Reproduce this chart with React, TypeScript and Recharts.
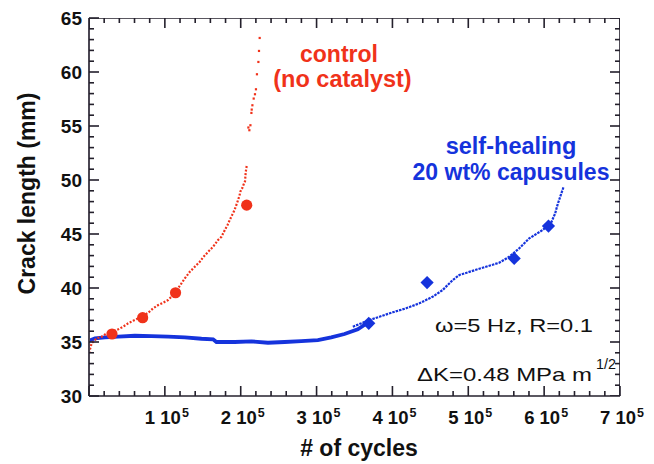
import React from "react";
import { ComposedChart, Line, Scatter, XAxis, YAxis } from "recharts";

// ---------- data (cycles, crack length mm) ----------
const redTrace: number[][] = [
  [0, 33.98], [3500, 34.88], [10100, 35.34], [16700, 35.49], [23300, 35.8], [29800, 35.95],
  [38600, 36.18], [45100, 36.42], [51700, 36.73], [58300, 36.97], [64900, 37.19], [71500, 37.4],
  [78000, 37.71], [84600, 38.12], [91200, 38.42], [97800, 38.64], [104300, 38.89], [110900, 39.35],
  [117500, 39.97], [121900, 40.43], [126300, 40.89], [132900, 41.5], [139500, 41.97], [146100, 42.43],
  [150400, 42.84], [157000, 43.35], [163600, 43.82], [170100, 44.44], [174600, 44.74], [179000, 45.36],
  [182500, 45.82], [185500, 46.29], [188600, 46.75], [191200, 47.12], [193400, 47.52], [195700, 47.98],
  [198300, 48.53], [199600, 48.94], [202200, 49.27], [203600, 49.55], [205700, 49.89], [206600, 50.73],
  [207900, 51.31],
];
const redSparse: number[][] = [
  [210100, 54.86], [211400, 54.61], [212800, 55.07], [214100, 56.21], [214500, 56.52], [215400, 56.92],
  [217100, 57.54], [218800, 57.94], [220100, 58.4], [221400, 59.79], [223300, 60.93], [224100, 61.95],
  [225000, 63.15],
];
const redMarkers: number[][] = [
  [30300, 35.74], [70700, 37.25], [114100, 39.56], [207900, 47.67],
];
const blueBand: number[][] = [
  [0, 35.12], [7900, 35.34], [21000, 35.43], [38600, 35.49], [60500, 35.58], [82500, 35.55],
  [104300, 35.49], [126300, 35.43], [148300, 35.3], [163600, 35.25], [168000, 35.0], [192100, 35.0],
  [214100, 35.06], [235900, 34.93], [257900, 35.0], [279900, 35.09], [301700, 35.18], [319300, 35.43],
  [336800, 35.74], [354300, 36.17], [367500, 36.78],
];
const blueRise: number[][] = [
  [347800, 36.42], [369700, 37.03], [382900, 37.34], [400400, 37.75], [418000, 38.12], [435500, 38.58],
  [453000, 39.19], [466200, 39.81], [479300, 40.73], [488200, 41.2], [505700, 41.59], [523300, 41.97],
  [540800, 42.34], [553900, 42.89], [567100, 43.67], [580300, 44.59], [597800, 45.36], [608800, 45.98],
  [614500, 46.9], [617500, 47.67], [621900, 48.6], [625400, 49.31],
];
const blueMarkers: number[][] = [
  [368800, 36.73], [445700, 40.5], [560500, 42.74], [605700, 45.73],
];

const xTicks: number[] = [
  0, 20000, 40000, 60000, 80000, 100000, 120000, 140000, 160000, 180000, 200000, 220000, 240000,
  260000, 280000, 300000, 320000, 340000, 360000, 380000, 400000, 420000, 440000, 460000, 480000,
  500000, 520000, 540000, 560000, 580000, 600000, 620000, 640000, 660000, 680000, 700000,
];
const xMajorLabels: Record<number, string> = {
  100000: "1", 200000: "2", 300000: "3", 400000: "4", 500000: "5", 600000: "6", 700000: "7",
};
const yTicks: number[] = [
  30, 31, 32, 33, 34, 35, 36, 37, 38, 39, 40, 41, 42, 43, 44, 45, 46, 47, 48, 49, 50, 51, 52, 53,
  54, 55, 56, 57, 58, 59, 60, 61, 62, 63, 64, 65,
];
const yLabels: number[] = [30, 35, 40, 45, 50, 55, 60, 65];

const X_MIN = 0;
const X_MAX = 700000;
const Y_MIN = 30;
const Y_MAX = 65;

const toPts = (a: number[][]) => a.map(([x, y]) => ({ x, y }));

const topMarks = xTicks.map((v) => ({ x: v, y: Y_MAX, major: v % 100000 === 0 }));
const rightMarks = yTicks.map((v) => ({ x: X_MAX, y: v, major: v % 5 === 0 }));
const frameTopRight = [
  { x: X_MIN, y: Y_MAX },
  { x: X_MAX, y: Y_MAX },
  { x: X_MAX, y: Y_MIN },
];

const RED = "#f0321a";
const BLUE = "#1533dc";
const INK = "#24202c";
const FONT = "'Liberation Sans', Arial, Helvetica, sans-serif";
const MAJOR_LEN = 10;
const MINOR_LEN = 5;
const TW = 1.6;

const W = 646;
const H = 456;

const BottomTick = (props: any) => {
  const { x, y, payload } = props;
  const v = payload.value;
  const lab = xMajorLabels[v];
  const len = v % 100000 === 0 ? MAJOR_LEN : MINOR_LEN;
  return (
    <g>
      <line x1={x} x2={x} y1={y} y2={y - len} stroke={INK} strokeWidth={TW} />
      {lab ? (
        <text x={x + 2} y={y + 28} textAnchor="middle" fontFamily={FONT} fontWeight="bold" fontSize={18.5} fill="#111">
          {`${lab} 10`}
          <tspan dx={1} dy={-7} fontSize={12.5}>5</tspan>
        </text>
      ) : null}
    </g>
  );
};

const LeftTick = (props: any) => {
  const { x, y, payload } = props;
  const v = payload.value;
  const len = v % 5 === 0 ? MAJOR_LEN : MINOR_LEN;
  return (
    <g>
      <line x1={x} x2={x + len} y1={y} y2={y} stroke={INK} strokeWidth={TW} />
      {yLabels.includes(v) ? (
        <text x={x - 7} y={y} dy="0.36em" textAnchor="end" fontFamily={FONT} fontWeight="bold" fontSize={19} fill="#111">
          {v}
        </text>
      ) : null}
    </g>
  );
};

const lenOf = (p: any) => (p && p.major ? MAJOR_LEN : MINOR_LEN);
const DownMark = (props: any) => {
  const L = lenOf(props.payload);
  return <rect x={props.cx - TW / 2} y={props.cy} width={TW} height={L} fill={INK} />;
};
const LeftMark = (props: any) => {
  const L = lenOf(props.payload);
  return <rect x={props.cx - L} y={props.cy - TW / 2} width={L} height={TW} fill={INK} />;
};

const SmallSquare = (props: any) => (
  <rect x={props.cx - 1.1} y={props.cy - 1.1} width={2.2} height={2.2} fill={RED} />
);
const Dot = (props: any) => <circle cx={props.cx} cy={props.cy} r={5.6} fill={RED} />;
const Diamond = (props: any) => {
  const { cx, cy } = props;
  const s = 6.6;
  return <polygon points={`${cx},${cy - s} ${cx + s},${cy} ${cx},${cy + s} ${cx - s},${cy}`} fill={BLUE} />;
};

export default function App() {
  return (
    <ComposedChart width={W} height={H} margin={{ top: 10, right: 34, bottom: 0, left: 0 }}>
      <XAxis
        dataKey="x"
        type="number"
        domain={[X_MIN, X_MAX]}
        ticks={xTicks}
        interval={0}
        height={68}
        tickSize={0}
        tickMargin={0}
        tickLine={false}
        axisLine={{ stroke: INK, strokeWidth: 1.6 }}
        tick={BottomTick}
        allowDataOverflow
      />
      <YAxis
        dataKey="y"
        type="number"
        domain={[Y_MIN, Y_MAX]}
        ticks={yTicks}
        interval={0}
        width={81}
        tickSize={0}
        tickMargin={0}
        tickLine={false}
        axisLine={{ stroke: "#4a4652", strokeWidth: 2 }}
        tick={LeftTick}
        allowDataOverflow
      />
      <Line
        data={frameTopRight}
        dataKey="y"
        stroke={INK}
        strokeWidth={1.6}
        dot={false}
        isAnimationActive={false}
      />
      <Line
        data={toPts(blueBand)}
        dataKey="y"
        stroke={BLUE}
        strokeWidth={3.8}
        dot={false}
        isAnimationActive={false}
      />
      <Line
        data={toPts(blueRise)}
        dataKey="y"
        stroke={BLUE}
        strokeWidth={2.2}
        strokeDasharray="2.5 1"
        dot={false}
        isAnimationActive={false}
      />
      <Line
        data={toPts(redTrace)}
        dataKey="y"
        stroke={RED}
        strokeWidth={2.2}
        strokeDasharray="2 1.6"
        dot={false}
        isAnimationActive={false}
      />
      <Scatter data={topMarks} dataKey="y" shape={DownMark} isAnimationActive={false} />
      <Scatter data={rightMarks} dataKey="y" shape={LeftMark} isAnimationActive={false} />
      <Scatter data={toPts(redSparse)} dataKey="y" shape={SmallSquare} isAnimationActive={false} />
      <Scatter data={toPts(redMarkers)} dataKey="y" shape={Dot} isAnimationActive={false} />
      <Scatter data={toPts(blueMarkers)} dataKey="y" shape={Diamond} isAnimationActive={false} />
      <g fontFamily={FONT}>
        <text x={351} y={448} textAnchor="middle" fontWeight="bold" fontSize={23} fill="#111">
          # of cycles
        </text>
        <text
          transform="translate(27,185.5) rotate(-90)"
          textAnchor="middle"
          fontWeight="bold"
          fontSize={23}
          fill="#111"
        >
          Crack length (mm)
        </text>
        <text x={331} y={54} textAnchor="middle" fontWeight="bold" fontSize={23} fill={RED}>
          control
        </text>
        <text x={334.5} y={78.5} textAnchor="middle" fontWeight="bold" fontSize={23.5} fill={RED}>
          (no catalyst)
        </text>
        <text x={503} y={146} textAnchor="middle" fontWeight="bold" fontSize={23.5} fill={BLUE}>
          self-healing
        </text>
        <text x={503} y={172} textAnchor="middle" fontWeight="bold" fontSize={23} fill={BLUE}>
          20 wt% capusules
        </text>
        <text x={427} y={324} fontSize={18.6} fill="#111" textLength={158} lengthAdjust="spacingAndGlyphs">
          ω=5 Hz, R=0.1
        </text>
        <text x={409} y={373} fontSize={18.6} fill="#111" textLength={175} lengthAdjust="spacingAndGlyphs">
          ΔK=0.48 MPa m
        </text>
        <text x={588} y={361} fontSize={14.5} fill="#111" textLength={20} lengthAdjust="spacingAndGlyphs">
          1/2
        </text>
      </g>
    </ComposedChart>
  );
}
